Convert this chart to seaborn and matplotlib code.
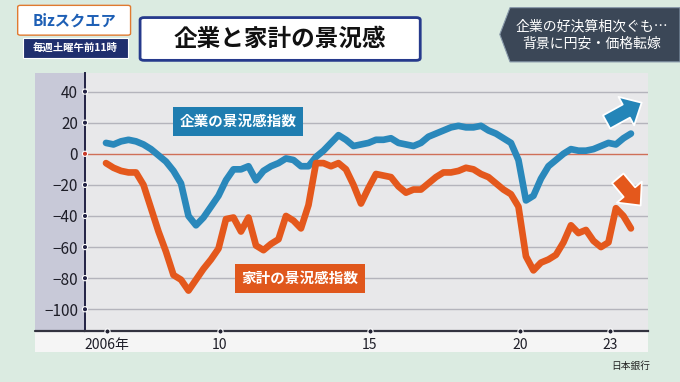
import matplotlib
matplotlib.use("Agg")
import matplotlib.pyplot as plt
import matplotlib.patches as mpatches
import numpy as np
import pandas as pd
import seaborn as sns

# quarterly readings, 2006 Q1 .. 2023 Q3
quarter_pos = 2006.2 + 0.25 * np.arange(71)
corporate = [7, 6, 8, 9, 8, 6, 3, -1, -5, -11,
             -19, -40, -46, -41, -34, -27, -17, -10, -10, -8,
             -17, -11, -8, -6, -3, -4, -8, -8, -2, 2,
             7, 12, 9, 5, 6, 7, 9, 9, 10, 7,
             6, 5, 7, 11, 13, 15, 17, 18, 17, 17,
             18, 15, 13, 10, 7, -4, -30, -27, -16, -8,
             -4, 0, 3, 2, 2, 3, 5, 7, 6, 10, 13]
household = [-6, -9, -11, -12, -12, -20, -35, -50, -63, -78,
             -81, -88, -81, -74, -68, -61, -42, -41, -50, -41,
             -59, -62, -58, -55, -40, -43, -48, -33, -6, -6,
             -8, -6, -10, -20, -32, -22, -13, -14, -15, -21,
             -25, -23, -23, -19, -15, -12, -12, -11, -9, -10,
             -13, -15, -19, -23, -26, -34, -66, -75, -70, -68,
             -65, -57, -46, -51, -49, -56, -60, -57, -35, -40, -48]
series_names = ["企業の景況感指数", "家計の景況感指数"]
y_ticks = [-100, -80, -60, -40, -20, 0, 20, 40]
x_ticks = [2006.23, 2010, 2015, 2020, 2023]
x_labels = ["2006年", "10", "15", "20", "23"]

df = pd.DataFrame({
    "t": np.concatenate([quarter_pos, quarter_pos]),
    "value": corporate + household,
    "series": [series_names[0]] * 71 + [series_names[1]] * 71,
})

sns.set_theme(style="white")
plt.rcParams["font.family"] = ["Noto Sans CJK JP", "DejaVu Sans"]

blue = "#2a88bb"
orange = "#e4581c"

fig = plt.figure(figsize=(6.8, 3.82), dpi=100)
fig.patch.set_facecolor("#dbebe1")

# chart card + left label strip
fig.add_artist(mpatches.Rectangle((0.0515, 0.0785), 0.9015, 0.7305,
                                  transform=fig.transFigure, fc="#f5f5f5", ec="none", zorder=0))
fig.add_artist(mpatches.Rectangle((0.0515, 0.1335), 0.0735, 0.6755,
                                  transform=fig.transFigure, fc="#c8c9d8", ec="none", zorder=0))

ax = fig.add_axes([0.125, 0.1335, 0.828, 0.6755])
ax.set_facecolor("#e8e8ea")

for v in y_ticks:
    if v != 0:
        ax.axhline(v, color="#b4b4bc", lw=1, zorder=1)
ax.axhline(0, color="#cf6f58", lw=1, zorder=1)

sns.lineplot(data=df, x="t", y="value", hue="series", palette=[blue, orange],
             lw=4.8, legend=False, ax=ax, zorder=3,
             solid_capstyle="round", solid_joinstyle="round")

ax.set_xlim(2005.5, 2024.27)
ax.set_ylim(-114, 52)
ax.set_xlabel("")
ax.set_ylabel("")
ax.set_yticks(y_ticks)
ax.set_yticklabels(["−100", "−80", "−60", "−40", "−20", "0", "20", "40"])
ax.set_xticks(x_ticks)
ax.set_xticklabels(x_labels)
ax.tick_params(axis="both", length=0, labelsize=11, colors="#1e1e28")
ax.tick_params(axis="y", pad=5)
ax.tick_params(axis="x", pad=5)
for lab in ax.get_xticklabels():
    lab.set_fontsize(10)

for s in ["top", "right"]:
    ax.spines[s].set_visible(False)
ax.spines["left"].set_color("#222244")
ax.spines["left"].set_linewidth(1.4)
ax.spines["bottom"].set_color("#333340")
ax.spines["bottom"].set_linewidth(1.6)
fig.add_artist(plt.Line2D([0.0515, 0.125], [0.1335, 0.1335], transform=fig.transFigure,
                          color="#333340", lw=1.6))

# tick dots
ax.scatter([0] * len(y_ticks), y_ticks, transform=ax.get_yaxis_transform(), s=14,
           c=["#222244" if v != 0 else "#c83a2a" for v in y_ticks],
           edgecolors="white", linewidths=0.8, zorder=5, clip_on=False)
ax.scatter(x_ticks, [0] * len(x_ticks), transform=ax.get_xaxis_transform(), s=14,
           c="#222233", edgecolors="white", linewidths=0.8, zorder=5, clip_on=False)

# series labels
ax.text(2010.6, 21, series_names[0], color="white", fontsize=10.5, fontweight="bold",
        ha="center", va="center", zorder=6,
        bbox=dict(boxstyle="square,pad=0.45", fc="#1f7db0", ec="none"))
ax.text(2012.67, -80, series_names[1], color="white", fontsize=10.5, fontweight="bold",
        ha="center", va="center", zorder=6,
        bbox=dict(boxstyle="square,pad=0.45", fc="#e0571c", ec="none"))

# trend arrows
for (x0, y0), (x1, y1), col in [((0.922, 0.805), (0.993, 0.89), "#2485b8"),
                                ((0.943, 0.6), (0.99, 0.478), "#e4581c")]:
    arr = mpatches.FancyArrowPatch((x0, y0), (x1, y1), transform=ax.transAxes,
                                   arrowstyle="simple,head_length=0.7,head_width=1.3,tail_width=0.6",
                                   mutation_scale=18, fc=col, ec="white", lw=1.3,
                                   zorder=7, clip_on=False)
    ax.add_patch(arr)

# header
fig.add_artist(mpatches.FancyBboxPatch((0.03, 0.912), 0.158, 0.07, boxstyle="round,pad=0.004",
                                       transform=fig.transFigure, fc="white", ec="#e07a30", lw=1))
fig.text(0.109, 0.947, "Bizスクエア", ha="center", va="center", fontsize=11,
         fontweight="bold", color="#1d5fb5")
fig.add_artist(mpatches.Rectangle((0.034, 0.848), 0.154, 0.053, transform=fig.transFigure,
                                  fc="#1f2f6e", ec="white", lw=0.8))
fig.text(0.111, 0.875, "毎週土曜午前11時", ha="center", va="center", fontsize=7.5,
         fontweight="bold", color="white")

fig.add_artist(mpatches.FancyBboxPatch((0.212, 0.848), 0.4, 0.1, boxstyle="round,pad=0.006",
                                       transform=fig.transFigure, fc="white", ec="#263a8c", lw=2))
fig.text(0.412, 0.898, "企業と家計の景況感", ha="center", va="center", fontsize=17,
         fontweight="bold", color="#111111")

fig.add_artist(mpatches.Polygon([(0.735, 0.91), (0.75, 0.98), (1.0, 0.98), (1.0, 0.838), (0.75, 0.838)],
                                closed=True, transform=fig.transFigure, fc="#3b4757", ec="#8899aa", lw=0.8))
fig.text(0.87, 0.908, "企業の好決算相次ぐも…\n背景に円安・価格転嫁", ha="center", va="center",
         fontsize=10, color="white", linespacing=1.3)

fig.text(0.956, 0.042, "日本銀行", ha="right", va="center", fontsize=7, color="#222222")

fig.savefig("out.png", dpi=100, facecolor=fig.get_facecolor())
